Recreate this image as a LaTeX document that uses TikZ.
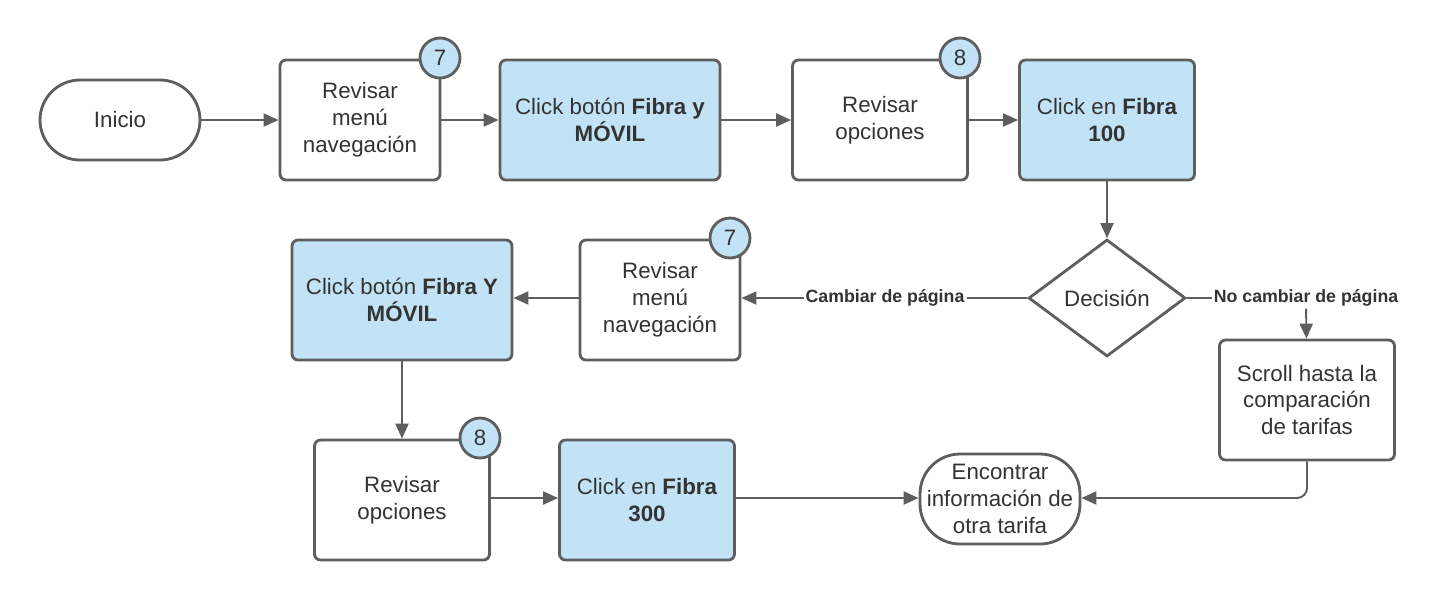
\documentclass[tikz,border=0pt]{standalone}
\usepackage{fontspec}
\setmainfont{Liberation Sans}
\usetikzlibrary{arrows.meta,shapes.geometric}

\definecolor{borde}{HTML}{5E5E5E}
\definecolor{celeste}{HTML}{C2E3F6}
\definecolor{texto}{HTML}{333333}

\tikzset{
	paso/.style={draw=borde, line width=1.6pt, rounded corners=0.12cm, fill=white, text=texto,
		align=center, minimum width=3.5cm, minimum height=2.4cm, font=\fontsize{12.7}{15.3}\selectfont},
	clic/.style={paso, fill=celeste, minimum width=4.4cm},
	terminal/.style={paso, minimum width=3.2cm, inner sep=1pt},
	decision/.style={diamond, draw=borde, line width=1.6pt, fill=white, text=texto, inner sep=0pt,
		minimum width=3.14cm, minimum height=2.34cm, font=\fontsize{12.7}{15.3}\selectfont},
	marca/.style={circle, draw=borde, line width=1.6pt, fill=celeste, text=texto, inner sep=0pt,
		minimum size=0.8cm, font=\fontsize{12.7}{14}\selectfont},
	flecha/.style={draw=borde, line width=1.1pt, -{Triangle[length=0.3cm,width=0.26cm]}},
	etiqueta/.style={fill=white, inner sep=1pt, text=texto, font=\bfseries\fontsize{10.1}{12}\selectfont}
}

\begin{document}
\begin{tikzpicture}[x=0.02cm, y=-0.02cm]
		\useasboundingbox (0,0) rectangle (1439,600);

		% Draw the steps
		\node[terminal, minimum height=1.6cm, rounded corners=0.8cm] (inicio) at (120,120) {Inicio};
		\node[paso, minimum width=3.2cm] (m1) at (360,120) {Revisar\\menú\\navegación};
		\node[clic] (b1) at (610,120) {Click botón \textbf{Fibra y}\\\textbf{MÓVIL}};
		\node[paso] (o1) at (880,120) {Revisar\\opciones};
		\node[clic, minimum width=3.5cm] (f1) at (1107,120) {Click en \textbf{Fibra}\\\textbf{100}};
		\node[decision] (dec) at (1107,298) {Decisión};
		\node[paso, minimum width=3.2cm] (m2) at (660,300) {Revisar\\menú\\navegación};
		\node[clic] (b2) at (402,300) {Click botón \textbf{Fibra Y}\\\textbf{MÓVIL}};
		\node[paso] (o2) at (402,500) {Revisar\\opciones};
		\node[clic, minimum width=3.5cm] (f2) at (647,500) {Click en \textbf{Fibra}\\\textbf{300}};
		\node[paso] (scroll) at (1307,400) {Scroll hasta la\\comparación\\de tarifas};
		\node[terminal, minimum height=1.8cm, rounded corners=0.8cm] (fin) at (1000,499) {Encontrar\\información de\\otra tarifa};

		% Draw the badges
		\node[marca] (n1) at (440,58) {7};
		\node[marca] (n2) at (960,58) {8};
		\node[marca] (n3) at (730,238) {7};
		\node[marca] (n4) at (480,438) {8};

		% Connect the steps
		\draw[flecha] (inicio) -- (m1);
		\draw[flecha] (m1) -- (b1);
		\draw[flecha] (b1) -- (o1);
		\draw[flecha] (o1) -- (f1);
		\draw[flecha] (f1) -- (dec);
		\node[etiqueta] (cambio) at (885,298) {Cambiar de página};
		\draw[draw=borde, line width=1.1pt] (dec.west) -- (cambio.east);
		\draw[flecha] (cambio.west) -- (m2.east |- cambio.west);
		\draw[flecha] (m2.west |- dec.west) -- (b2.east |- dec.west);
		\draw[flecha] (b2) -- (o2);
		\draw[flecha] (o2.east |- 0,498) -- (f2.west |- 0,498);
		\draw[flecha] (f2.east |- 0,498) -- (fin.west |- 0,498);
		\node[etiqueta] (nocambio) at (1306,298) {No cambiar de página};
		\draw[draw=borde, line width=1.1pt] (dec.east) -- (nocambio.west);
		\draw[flecha] (nocambio) -- (scroll);
		\draw[flecha, rounded corners=0.2cm] (scroll.south) |- (fin.east |- 0,498);
	\end{tikzpicture}
\end{document}
